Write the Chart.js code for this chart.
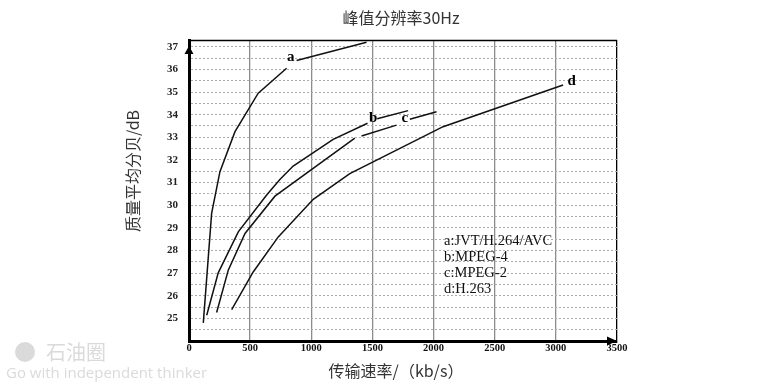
<!DOCTYPE html>
<html>
<head>
<meta charset="utf-8">
<script src="https://cdn.jsdelivr.net/npm/chart.js@4/dist/chart.umd.min.js"></script>
<style>
  html, body { margin: 0; padding: 0; background: #fff; }
  #wrap { width: 775px; height: 388px; position: relative; }
</style>
</head>
<body>
<div id="wrap"><canvas id="psnrChart"></canvas></div>
<script>
// [rate kb/s, quality dB]; a null value breaks the line (where a letter sits)
const curveA = [[117, 24.8], [185, 29.64], [253, 31.48], [376, 33.25], [566, 34.95], [798, 36.05], [840, null], [880, 36.39], [1452, 37.2]];
const curveB = [[145, 25.14], [239, 27.01], [403, 28.82], [635, 30.45], [743, 31.14], [852, 31.73], [1179, 32.91], [1460, 33.62], [1500, null], [1539, 33.82], [1792, 34.18]];
const curveC = [[226, 25.26], [321, 27.13], [458, 28.75], [703, 30.4], [1356, 32.96], [1380, null], [1411, 33.06], [1697, 33.54], [1750, null], [1806, 33.8], [2024, 34.13]];
const curveD = [[349, 25.39], [525, 27.05], [730, 28.6], [1016, 30.26], [1315, 31.4], [2078, 33.47], [3059, 35.31]];

const curveNames = ['a', 'b', 'c', 'd'];
const legendLines = ['a:JVT/H.264/AVC', 'b:MPEG-4', 'c:MPEG-2', 'd:H.263'];
const yTickLabels = [25, 26, 27, 28, 29, 30, 31, 32, 33, 34, 35, 36, 37];
const xTickLabels = [0, 500, 1000, 1500, 2000, 2500, 3000, 3500];

const chartTitle = '峰值分辨率30Hz';
const xTitle = '传输速率/（kb/s）';
const yTitle = '质量平均分贝/dB';

// where the curve letters and the key are written, in data units
const nameAt = [[833, 36.55], [1507, 33.83], [1765, 33.83], [3129, 35.47]];
const legendAt = [2086, 28.41];

const toXY = pts => pts.map(p => ({ x: p[0], y: p[1] }));

const decorations = {
  id: 'decorations',
  afterDatasetsDraw(chart) {
    const { ctx, chartArea: area, scales: { x, y } } = chart;
    ctx.save();

    // frame top / right
    ctx.strokeStyle = '#000';
    ctx.lineWidth = 1.5;
    ctx.beginPath();
    ctx.moveTo(area.left, area.top + 0.5);
    ctx.lineTo(area.right, area.top + 0.5);
    ctx.stroke();

    // axis arrows
    ctx.fillStyle = '#000';
    ctx.beginPath();
    ctx.moveTo(area.left, area.top + 6);
    ctx.lineTo(area.left - 4.5, area.top + 14);
    ctx.lineTo(area.left + 4.5, area.top + 14);
    ctx.closePath();
    ctx.fill();
    ctx.beginPath();
    ctx.moveTo(area.right, area.bottom);
    ctx.lineTo(area.right - 10, area.bottom - 4.5);
    ctx.lineTo(area.right - 10, area.bottom + 4.5);
    ctx.closePath();
    ctx.fill();

    // curve letters
    ctx.font = 'bold 15px "Liberation Serif", serif';
    ctx.textAlign = 'center';
    ctx.textBaseline = 'middle';
    ctx.fillStyle = '#000';
    curveNames.forEach((n, i) => {
      ctx.fillText(n, x.getPixelForValue(nameAt[i][0]), y.getPixelForValue(nameAt[i][1]));
    });

    // key
    ctx.font = '14.5px "Liberation Serif", serif';
    ctx.textAlign = 'left';
    ctx.fillStyle = '#111';
    const lx = x.getPixelForValue(legendAt[0]);
    const ly = y.getPixelForValue(legendAt[1]);
    legendLines.forEach((t, i) => ctx.fillText(t, lx, ly + i * 16));

    // titles
    const midX = (area.left + area.right) / 2;
    ctx.fillStyle = '#333';
    ctx.textAlign = 'center';
    ctx.font = '16px "Noto Sans CJK SC", sans-serif';
    ctx.fillText(chartTitle, midX - 2, 18);
    ctx.fillText(xTitle, midX - 7, 371);
    ctx.save();
    ctx.translate(133, 171);
    ctx.rotate(-Math.PI / 2);
    ctx.fillText(yTitle, 0, 0);
    ctx.restore();

    // watermark
    ctx.fillStyle = '#dadada';
    ctx.textAlign = 'left';
    ctx.font = '20px "Noto Sans CJK SC", sans-serif';
    ctx.fillText('石油圈', 46, 352);
    ctx.beginPath();
    ctx.arc(25, 352, 10, 0, Math.PI * 2);
    ctx.fill();
    ctx.font = '15px "Open Sans", sans-serif';
    ctx.fillText('Go with independent thinker', 6, 374);

    ctx.restore();
  }
};

const lineStyle = {
  borderColor: '#111',
  borderWidth: 1.5,
  pointRadius: 0,
  tension: 0,
  spanGaps: false,
  fill: false
};

new Chart(document.getElementById('psnrChart'), {
  type: 'line',
  data: {
    datasets: [
      { label: 'a', data: toXY(curveA), ...lineStyle },
      { label: 'b', data: toXY(curveB), ...lineStyle },
      { label: 'c', data: toXY(curveC), ...lineStyle },
      { label: 'd', data: toXY(curveD), ...lineStyle }
    ]
  },
  options: {
    responsive: true,
    maintainAspectRatio: false,
    animation: false,
    layout: { padding: { left: 0, top: 40, right: 158, bottom: 0 } },
    plugins: {
      legend: { display: false },
      tooltip: { enabled: false }
    },
    scales: {
      x: {
        type: 'linear',
        min: 0,
        max: 3500,
        afterFit: s => { s.height = 47; },
        afterBuildTicks: s => { s.ticks = xTickLabels.map(v => ({ value: v })); },
        ticks: {
          autoSkip: false,
          maxRotation: 0,
          padding: 1,
          color: '#111',
          font: { family: '"Liberation Serif", serif', size: 10.5, weight: 'bold' },
          callback: v => String(v)
        },
        grid: {
          drawTicks: false,
          color: c => (c.tick && c.tick.value === 3500 ? '#000' : '#8c8c8c'),
          lineWidth: 1.3
        },
        border: { display: true, color: '#000', width: 3 }
      },
      y: {
        type: 'linear',
        min: 24,
        max: 37.3,
        afterFit: s => { s.width = 189; },
        afterBuildTicks: s => {
          const t = [];
          for (let v = 24; v <= 37; v += 0.5) t.push({ value: v });
          s.ticks = t;
        },
        ticks: {
          autoSkip: false,
          padding: 11,
          color: '#222',
          font: { family: '"Liberation Serif", serif', size: 11, weight: 'bold' },
          callback: v => (yTickLabels.includes(v) ? String(v) : '')
        },
        grid: {
          drawTicks: false,
          color: '#ababab',
          lineWidth: 1
        },
        border: { display: true, color: '#000', width: 3, dash: [2, 2] }
      }
    }
  },
  plugins: [decorations]
});
</script>
</body>
</html>
